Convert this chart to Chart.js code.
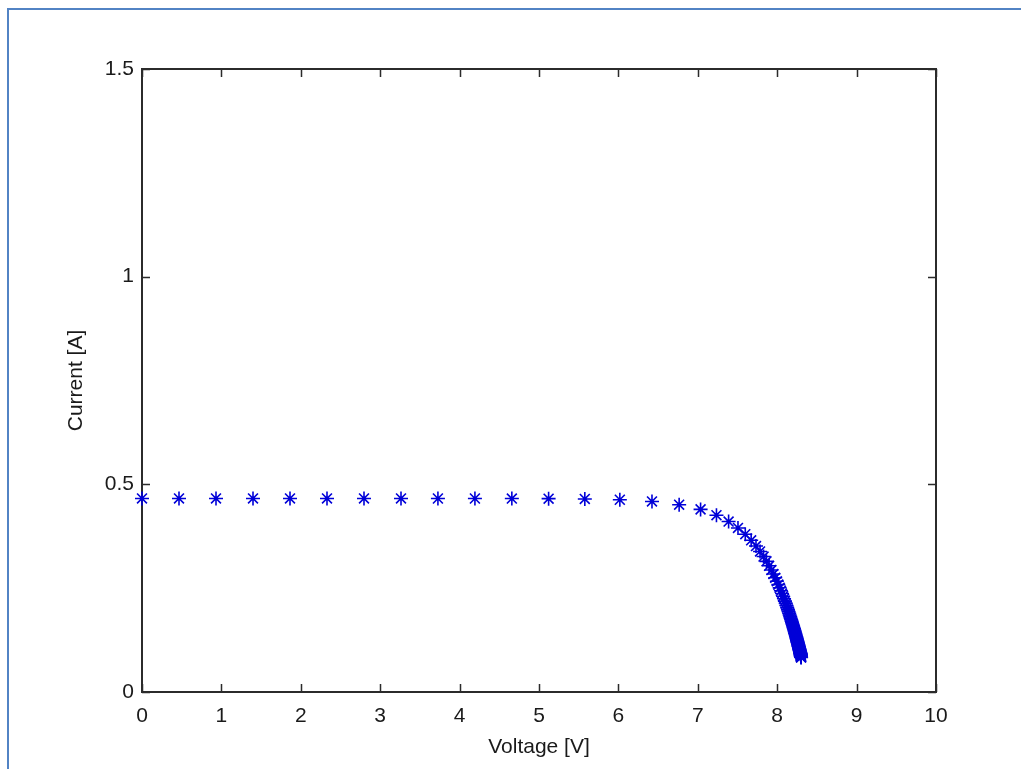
<!DOCTYPE html>
<html>
<head>
<meta charset="utf-8">
<script src="https://cdn.jsdelivr.net/npm/chart.js@4.4.1/dist/chart.umd.min.js"></script>
<style>
  html, body { margin: 0; padding: 0; background: #ffffff; overflow: hidden; }
  #wrap { position: relative; width: 1021px; height: 769px; }
  #c { position: absolute; left: 0; top: 0; }
  #edge {
    position: absolute; left: 7px; top: 8px; right: -10px; bottom: -10px;
    border-top: 2px solid #5283c4; border-left: 2px solid #5283c4;
    pointer-events: none;
  }
</style>
</head>
<body>
<div id="wrap">
  <canvas id="c" width="1021" height="769"></canvas>
  <div id="edge"></div>
</div>
<script>
// I-V sweep of the cell: terminal voltage [V] and current [A] per load step
const voltage = [
  0, 0.466, 0.932, 1.398, 1.864, 2.330, 2.796, 3.262, 3.727, 4.193,
  4.658, 5.121, 5.577, 6.018, 6.423, 6.765, 7.035, 7.235, 7.388, 7.506,
  7.598, 7.672, 7.733, 7.784, 7.828, 7.865, 7.898, 7.927, 7.952, 7.975,
  7.996, 8.014, 8.031, 8.047, 8.061, 8.074, 8.086, 8.097, 8.108, 8.117,
  8.126, 8.135, 8.143, 8.151, 8.157, 8.164, 8.170, 8.176, 8.182, 8.187,
  8.192, 8.198, 8.202, 8.206, 8.211, 8.215, 8.219, 8.222, 8.226, 8.229,
  8.233, 8.236, 8.239, 8.242, 8.245, 8.247, 8.250, 8.252, 8.255, 8.257,
  8.259, 8.262, 8.264, 8.266, 8.268, 8.270, 8.272, 8.274, 8.275, 8.277,
  8.279, 8.280, 8.282, 8.284, 8.285, 8.287, 8.288, 8.289, 8.291, 8.292,
  8.293, 8.295, 8.296, 8.297, 8.297, 8.298, 8.298, 8.299, 8.300, 8.300,
  8.301
];
const current = [
  0.4660, 0.4660, 0.4660, 0.4660, 0.4660, 0.4660, 0.4660, 0.4660, 0.4659, 0.4659,
  0.4658, 0.4655, 0.4648, 0.4629, 0.4588, 0.4510, 0.4397, 0.4256, 0.4104, 0.3950,
  0.3799, 0.3653, 0.3515, 0.3384, 0.3261, 0.3146, 0.3038, 0.2936, 0.2840, 0.2750,
  0.2665, 0.2585, 0.2510, 0.2438, 0.2371, 0.2307, 0.2246, 0.2188, 0.2134, 0.2081,
  0.2032, 0.1984, 0.1939, 0.1895, 0.1854, 0.1814, 0.1776, 0.1740, 0.1705, 0.1671,
  0.1638, 0.1607, 0.1577, 0.1548, 0.1520, 0.1494, 0.1468, 0.1443, 0.1418, 0.1395,
  0.1372, 0.1350, 0.1329, 0.1308, 0.1288, 0.1269, 0.1250, 0.1232, 0.1214, 0.1197,
  0.1180, 0.1164, 0.1148, 0.1132, 0.1117, 0.1103, 0.1088, 0.1075, 0.1061, 0.1048,
  0.1035, 0.1022, 0.1010, 0.0998, 0.0986, 0.0975, 0.0964, 0.0953, 0.0942, 0.0932,
  0.0921, 0.0912, 0.0902, 0.0892, 0.0883, 0.0873, 0.0864, 0.0856, 0.0847, 0.0838,
  0.0830
];
const xTicks = [0, 1, 2, 3, 4, 5, 6, 7, 8, 9, 10];
const xTickLabels = ['0', '1', '2', '3', '4', '5', '6', '7', '8', '9', '10'];
const yTicks = [0, 0.5, 1, 1.5];
const yTickLabels = ['0', '0.5', '1', '1.5'];
const xTitle = 'Voltage [V]';
const yTitle = 'Current [A]';

const AXIS_COLOR = '#2b2b2b';
const TICK_LEN = 8;

// Boxed axes with inward tick marks on all four sides
const boxAxes = {
  id: 'boxAxes',
  beforeDatasetsDraw(chart) {
    const { ctx, chartArea: a, scales: { x, y } } = chart;
    ctx.save();
    ctx.strokeStyle = AXIS_COLOR;
    ctx.lineWidth = 1.5;
    ctx.beginPath();
    x.ticks.forEach(t => {
      const px = Math.round(x.getPixelForValue(t.value)) + 0.5;
      ctx.moveTo(px, a.bottom); ctx.lineTo(px, a.bottom - TICK_LEN);
      ctx.moveTo(px, a.top); ctx.lineTo(px, a.top + TICK_LEN);
    });
    y.ticks.forEach(t => {
      const py = Math.round(y.getPixelForValue(t.value)) + 0.5;
      ctx.moveTo(a.left, py); ctx.lineTo(a.left + TICK_LEN, py);
      ctx.moveTo(a.right, py); ctx.lineTo(a.right - TICK_LEN, py);
    });
    ctx.stroke();
    ctx.lineWidth = 2;
    ctx.strokeRect(a.left, a.top, a.right - a.left, a.bottom - a.top);
    ctx.restore();
  }
};

const tickFont = { family: '"Liberation Sans", Arial, sans-serif', size: 21 };
const titleFont = { family: '"Liberation Sans", Arial, sans-serif', size: 21 };

new Chart(document.getElementById('c'), {
  type: 'scatter',
  data: {
    datasets: [{
      data: voltage.map((v, i) => ({ x: v, y: current[i] })),
      pointStyle: 'star',
      pointRadius: 7,
      pointHoverRadius: 7,
      pointBorderWidth: 1.6,
      borderColor: '#0000d8',
      backgroundColor: '#0000d8',
      showLine: false,
      clip: false
    }]
  },
  options: {
    responsive: false,
    animation: false,
    events: [],
    layout: { padding: { left: 0, top: 69, right: 85, bottom: 0 } },
    plugins: { legend: { display: false }, tooltip: { enabled: false } },
    scales: {
      x: {
        type: 'linear',
        min: 0, max: 10,
        afterBuildTicks: s => { s.ticks = xTicks.map(v => ({ value: v })); },
        afterFit: s => { s.height = 77; },
        grid: { display: false, drawTicks: false },
        border: { display: false },
        ticks: {
          font: tickFont, color: '#1a1a1a', padding: 12, maxRotation: 0, autoSkip: false,
          callback: (v, i) => xTickLabels[i]
        },
        title: { display: true, text: xTitle, font: titleFont, color: '#1a1a1a', padding: { top: 0, bottom: 9 } }
      },
      y: {
        type: 'linear',
        min: 0, max: 1.5,
        afterBuildTicks: s => { s.ticks = yTicks.map(v => ({ value: v })); },
        afterFit: s => { s.width = 142; },
        grid: { display: false, drawTicks: false },
        border: { display: false },
        ticks: {
          font: tickFont, color: '#1a1a1a', padding: 8, autoSkip: false,
          callback: (v, i) => yTickLabels[i]
        },
        title: { display: true, text: yTitle, font: titleFont, color: '#1a1a1a', padding: { top: 64, bottom: 0 } }
      }
    }
  },
  plugins: [boxAxes]
});
</script>
</body>
</html>
